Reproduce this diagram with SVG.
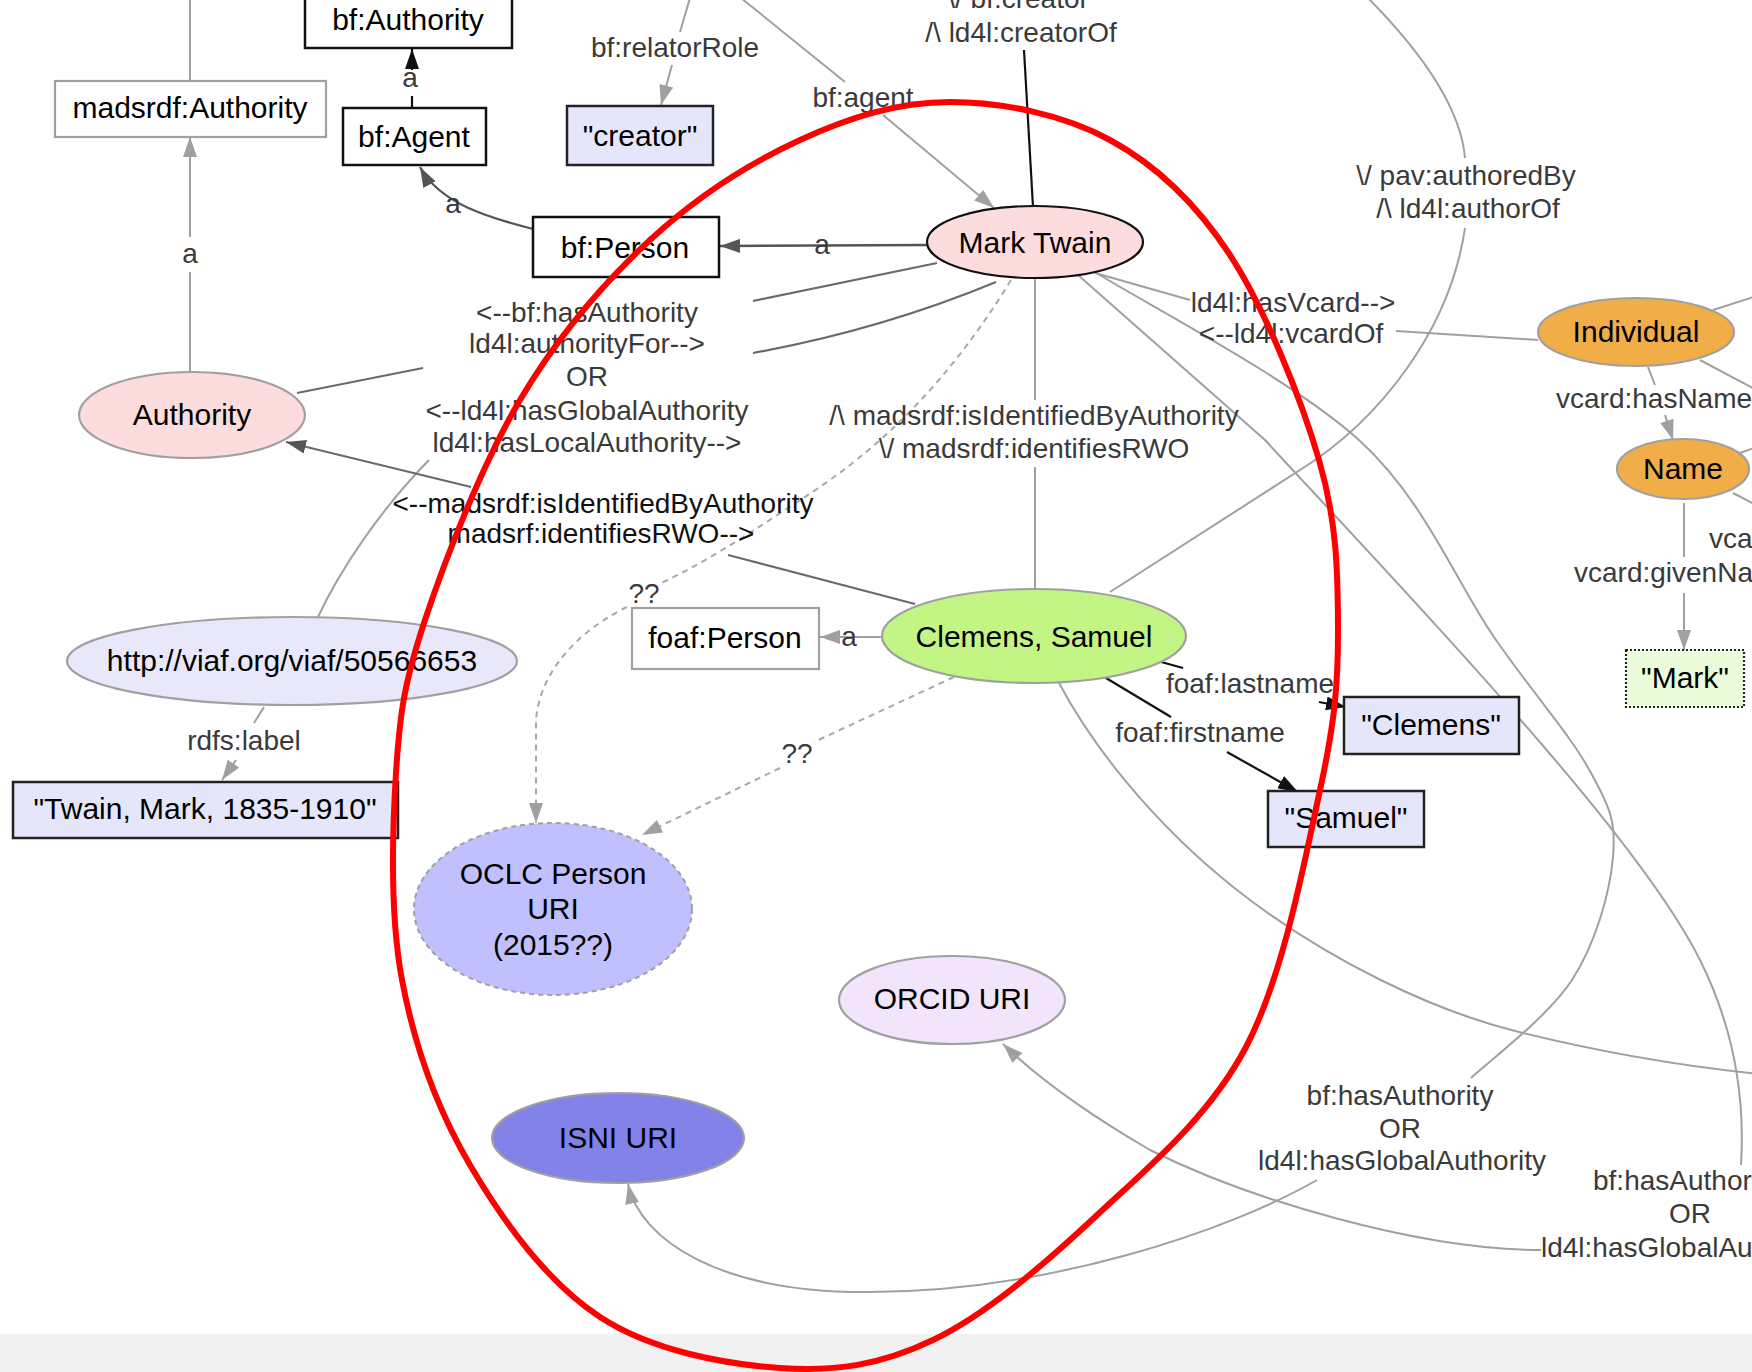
<svg xmlns="http://www.w3.org/2000/svg" width="1752" height="1372" viewBox="0 0 1752 1372">
<style>
.nt{font-family:"Liberation Sans",Arial,Helvetica,sans-serif;font-size:30px;fill:#000;text-anchor:middle}
.el{font-family:"Liberation Sans",Arial,Helvetica,sans-serif;font-size:28px;fill:#3a3a3a;text-anchor:middle}
.st{text-anchor:start}
.g{fill:none;stroke:#a0a0a0;stroke-width:2}
.d{fill:none;stroke:#6a6a6a;stroke-width:2.2}
.k{fill:none;stroke:#111;stroke-width:2.2}
.ds{fill:none;stroke:#a8a8a8;stroke-width:2;stroke-dasharray:6,5}
.box{fill:#fff;stroke:#111;stroke-width:2.5}
.gbox{fill:#fff;stroke:#a0a0a0;stroke-width:2.2}
.lit{fill:#e6e6fa;stroke:#222;stroke-width:2.5}
</style>
<defs>
<marker id="ag" markerUnits="userSpaceOnUse" markerWidth="20" markerHeight="14" refX="20" refY="7" orient="auto"><path d="M0,0 L20,7 L0,14 z" fill="#a0a0a0"/></marker>
<marker id="ad" markerUnits="userSpaceOnUse" markerWidth="20" markerHeight="14" refX="20" refY="7" orient="auto"><path d="M0,0 L20,7 L0,14 z" fill="#555"/></marker>
<marker id="ak" markerUnits="userSpaceOnUse" markerWidth="20" markerHeight="14" refX="20" refY="7" orient="auto"><path d="M0,0 L20,7 L0,14 z" fill="#111"/></marker>
</defs>
<rect x="0" y="0" width="1752" height="1372" fill="#fff"/>
<rect x="0" y="1334" width="1752" height="38" fill="#f1f1f1"/>

<g id="connectors">
  <!-- top left -->
  <path class="g" d="M190,0 L190,81"/>
  <path class="g" d="M190,371 L190,272"/>
  <path class="g" d="M190,237 L190,137" marker-end="url(#ag)"/>
  <path class="k" d="M412,108 L412,96"/>
  <path class="k" d="M412,70 L412,49" marker-end="url(#ak)"/>
  <path d="M533,229 C490,218 440,204 420,167" fill="none" stroke="#555" stroke-width="2.2" marker-end="url(#ad)"/>
  <path d="M927,245 L720,246" fill="none" stroke="#555" stroke-width="2.4" marker-end="url(#ad)"/>
  <path class="g" d="M690,-2 L680,32"/>
  <path class="g" d="M672,65 L661,105" marker-end="url(#ag)"/>
  <path class="g" d="M741,-2 L845,82"/>
  <path class="g" d="M883,115 L994,208" marker-end="url(#ag)"/>
  <path class="k" d="M1024,50 L1033,207"/>
  <!-- Mark Twain to Authority label -->
  <path class="d" d="M937,263 L753,301"/>
  <path class="d" d="M996,282 Q880,330 753,353"/>
  <path class="d" d="M423,368 L297,393"/>
  <path class="g" d="M318,617 C340,570 380,510 429,460"/>
  <!-- madsrdf -->
  <path class="d" d="M915,604 L728,555"/>
  <path class="d" d="M471,487 L286,442" marker-end="url(#ad)"/>
  <path class="g" d="M1035,278 L1035,400"/>
  <path class="g" d="M1035,467 L1035,588"/>
  <!-- dashed ?? -->
  <path class="ds" d="M1011,280 C950,380 880,450 800,500 C740,540 700,565 661,583"/>
  <path class="ds" d="M627,607 C580,630 540,670 536,720 L536,823" marker-end="url(#ag)"/>
  <path class="ds" d="M954,677 L814,742"/>
  <path class="ds" d="M780,768 L642,835" marker-end="url(#ag)"/>
  <!-- Clemens -->
  <path class="g" d="M882,637 L820,637" marker-end="url(#ag)"/>
  <path class="k" d="M1154,660 L1183,668"/>
  <path class="k" d="M1319,702 L1346,707" marker-end="url(#ak)"/>
  <path class="k" d="M1106,678 L1171,717"/>
  <path class="k" d="M1227,752 L1298,792" marker-end="url(#ak)"/>
  <!-- viaf -->
  <path class="g" d="M264,707 L254,723"/>
  <path class="g" d="M236,760 L222,780" marker-end="url(#ag)"/>
  <!-- long curves -->
  <path class="g" d="M1365,-5 C1410,40 1460,100 1465,158"/>
  <path class="g" d="M1465,228 C1450,330 1380,420 1300,470 C1230,515 1160,560 1110,592"/>
  <path class="g" d="M1095,273 L1190,300"/>
  <path class="g" d="M1396,331 L1538,340"/>
  <path class="g" d="M1095,272 C1139,300 1292,379 1359,440 C1426,501 1457,585 1496,640 C1535,696 1572,737 1591,773 C1611,809 1616,823 1613,857 C1610,892 1596,943 1572,980 C1548,1017 1488,1062 1471,1078"/>
  <path class="g" d="M1317,1180 C1230,1230 1050,1292 868,1292 C720,1293 640,1240 628,1184" marker-end="url(#ag)"/>
  <path class="g" d="M1078,275 L1265,440 C1450,640 1640,840 1700,960 C1735,1030 1745,1100 1741,1165"/>
  <path class="g" d="M1541,1250 C1420,1250 1250,1200 1150,1150 C1090,1115 1040,1080 1003,1044" marker-end="url(#ag)"/>
  <path class="g" d="M1059,683 C1100,760 1170,840 1250,900 C1330,960 1430,1010 1519,1032 C1600,1052 1680,1066 1760,1074"/>
  <!-- right side -->
  <path class="g" d="M1713,310 L1760,295"/>
  <path class="g" d="M1700,360 L1760,392"/>
  <path class="g" d="M1740,453 L1760,446"/>
  <path class="g" d="M1733,493 L1760,507"/>
  <path class="g" d="M1648,367 L1655,385"/>
  <path class="g" d="M1665,415 L1673,440" marker-end="url(#ag)"/>
  <path class="g" d="M1684,503 L1684,557"/>
  <path class="g" d="M1684,593 L1684,650" marker-end="url(#ag)"/>

  <!-- edge labels -->
  <text class="el" x="410" y="87">a</text>
  <text class="el" x="190" y="263">a</text>
  <text class="el" x="453" y="213">a</text>
  <text class="el" x="822" y="254">a</text>
  <text class="el" x="849" y="646">a</text>
  <text class="el" x="675" y="57">bf:relatorRole</text>
  <text class="el" x="863" y="107">bf:agent</text>
  <text class="el" x="1018" y="8">\/ bf:creator</text>
  <text class="el" x="1021" y="42">/\ ld4l:creatorOf</text>
  <text class="el" x="587" y="322">&lt;--bf:hasAuthority</text>
  <text class="el" x="587" y="353">ld4l:authorityFor--&gt;</text>
  <text class="el" x="587" y="386">OR</text>
  <text class="el" x="587" y="420">&lt;--ld4l:hasGlobalAuthority</text>
  <text class="el" x="587" y="452">ld4l:hasLocalAuthority--&gt;</text>
  <text class="el" x="603" y="513" style="fill:#111">&lt;--madsrdf:isIdentifiedByAuthority</text>
  <text class="el" x="601" y="543" style="fill:#111">madsrf:identifiesRWO--&gt;</text>
  <text class="el" x="1034" y="425">/\ madsrdf:isIdentifiedByAuthority</text>
  <text class="el" x="1034" y="458">\/ madsrdf:identifiesRWO</text>
  <text class="el" x="644" y="603">??</text>
  <text class="el" x="797" y="763">??</text>
  <text class="el" x="244" y="750">rdfs:label</text>
  <text class="el" x="1250" y="693">foaf:lastname</text>
  <text class="el" x="1200" y="742">foaf:firstname</text>
  <text class="el" x="1466" y="185">\/ pav:authoredBy</text>
  <text class="el" x="1468" y="218">/\ ld4l:authorOf</text>
  <text class="el" x="1293" y="312">ld4l:hasVcard--&gt;</text>
  <text class="el" x="1291" y="343">&lt;--ld4l:vcardOf</text>
  <text class="el st" x="1556" y="408">vcard:hasName</text>
  <text class="el st" x="1574" y="582">vcard:givenNa</text>
  <text class="el st" x="1709" y="548">vca</text>
  <text class="el" x="1400" y="1105">bf:hasAuthority</text>
  <text class="el" x="1400" y="1138">OR</text>
  <text class="el" x="1402" y="1170">ld4l:hasGlobalAuthority</text>
  <text class="el st" x="1593" y="1190">bf:hasAuthor</text>
  <text class="el" x="1690" y="1223">OR</text>
  <text class="el st" x="1541" y="1257">ld4l:hasGlobalAu</text>
</g>

<g id="n-bfAuthority"><rect class="box" x="305" y="-8" width="207" height="56"/><text class="nt" x="408" y="30">bf:Authority</text></g>
<g id="n-madsrdfAuthority"><rect class="gbox" x="55" y="81" width="271" height="56"/><text class="nt" x="190" y="118">madsrdf:Authority</text></g>
<g id="n-bfAgent"><rect class="box" x="343" y="108" width="143" height="57"/><text class="nt" x="414" y="147">bf:Agent</text></g>
<g id="n-bfPerson"><rect class="box" x="533" y="217" width="186" height="60"/><text class="nt" x="625" y="258">bf:Person</text></g>
<g id="n-creator"><rect class="lit" x="567" y="106" width="146" height="59"/><text class="nt" x="640" y="146">"creator"</text></g>
<g id="n-markTwain"><ellipse cx="1035" cy="242" rx="108" ry="36" fill="#fcdcdc" stroke="#111" stroke-width="2.2"/><text class="nt" x="1035" y="253">Mark Twain</text></g>
<g id="n-authority"><ellipse cx="192" cy="415" rx="113" ry="43" fill="#fcdcdc" stroke="#a0a0a0" stroke-width="2.2"/><text class="nt" x="192" y="425">Authority</text></g>
<g id="n-viaf"><ellipse cx="292" cy="661" rx="225" ry="44" fill="#e8e8fa" stroke="#a0a0a0" stroke-width="2.2"/><text class="nt" x="292" y="671">http://viaf.org/viaf/50566653</text></g>
<g id="n-twainLabel"><rect class="lit" x="13" y="782" width="385" height="56"/><text class="nt" x="205" y="819">"Twain, Mark, 1835-1910"</text></g>
<g id="n-clemens"><ellipse cx="1034" cy="636" rx="152" ry="47" fill="#c2f584" stroke="#a0a0a0" stroke-width="2.2"/><text class="nt" x="1034" y="647">Clemens, Samuel</text></g>
<g id="n-foafPerson"><rect class="gbox" x="632" y="608" width="187" height="61"/><text class="nt" x="725" y="648">foaf:Person</text></g>
<g id="n-oclc"><ellipse cx="553" cy="909" rx="139" ry="86" fill="#c0c0ff" stroke="#a0a0a0" stroke-width="2" stroke-dasharray="5,4"/><text class="nt" x="553" y="884">OCLC Person</text><text class="nt" x="553" y="919">URI</text><text class="nt" x="553" y="955">(2015??)</text></g>
<g id="n-orcid"><ellipse cx="952" cy="1000" rx="113" ry="44" fill="#f2e4fa" stroke="#a0a0a0" stroke-width="2.2"/><text class="nt" x="952" y="1009">ORCID URI</text></g>
<g id="n-isni"><ellipse cx="618" cy="1138" rx="126" ry="45" fill="#8282e8" stroke="#a0a0a0" stroke-width="2.2"/><text class="nt" x="618" y="1148">ISNI URI</text></g>
<g id="n-clemensLit"><rect class="lit" x="1344" y="697" width="175" height="57"/><text class="nt" x="1431" y="735">"Clemens"</text></g>
<g id="n-samuelLit"><rect class="lit" x="1268" y="791" width="156" height="56"/><text class="nt" x="1346" y="828">"Samuel"</text></g>
<g id="n-individual"><ellipse cx="1636" cy="332" rx="98" ry="34" fill="#f0ad48" stroke="#a0a0a0" stroke-width="2.2"/><text class="nt" x="1636" y="342">Individual</text></g>
<g id="n-name"><ellipse cx="1683" cy="469" rx="66" ry="30" fill="#f0ad48" stroke="#a0a0a0" stroke-width="2.2"/><text class="nt" x="1683" y="479">Name</text></g>
<g id="n-markLit"><rect x="1626" y="650" width="118" height="57" fill="#eafcd9" stroke="#222" stroke-width="2.2" stroke-dasharray="2,2"/><text class="nt" x="1685" y="688">"Mark"</text></g>

<g id="highlight">
  <path d="M950,102 C1001.7,102 1063.3,114.5 1110,140 C1156.7,165.5 1195.2,201.7 1230,255 C1264.8,308.3 1301,398 1319,460 C1337,522 1337.8,572 1338,627 C1338.2,682 1335.3,720 1320,790 C1304.7,860 1283.5,975.8 1246,1047 C1208.5,1118.2 1147.2,1168.2 1095,1217 C1042.8,1265.8 985.5,1314.8 933,1340 C880.5,1365.2 835.5,1371.8 780,1368 C724.5,1364.2 651.7,1350.8 600,1317 C548.3,1283.2 503,1221.2 470,1165 C437,1108.8 414.3,1045.3 402,980 C389.7,914.7 392.2,833 396,773 C399.8,713 404.3,682.2 425,620 C445.7,557.8 482.5,463.3 520,400 C557.5,336.7 603.3,283.3 650,240 C696.7,196.7 750,163 800,140 C850,117 898.3,102 950,102 Z" fill="none" stroke="#ff0000" stroke-width="6"/>
</g>
</svg>
